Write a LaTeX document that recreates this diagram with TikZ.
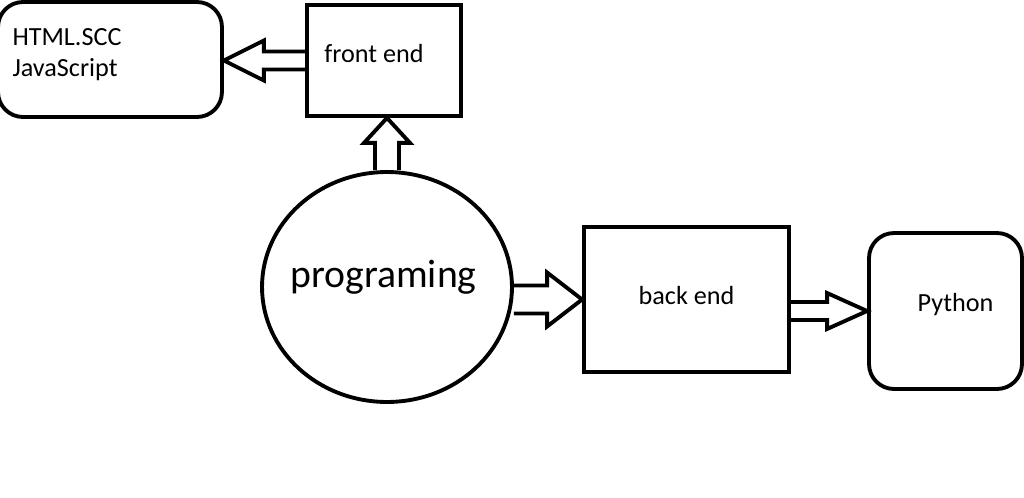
\documentclass[tikz,border=0pt]{standalone}
\usepackage{fontspec}
\setmainfont{Carlito}
\usetikzlibrary{calc,shapes.geometric}
\tikzset{
  box/.style={draw, line width=2.2pt, minimum width=#1},
  roundbox/.style={box=#1, rounded corners=0.5cm},
  fat/.style={draw, line width=2.2pt, line join=miter},
  txt/.style={font=\fontsize{14.9}{17.6}\selectfont}
}
\begin{document}
\begin{tikzpicture}[x=0.02cm, y=-0.02cm]
  \useasboundingbox (0,0) rectangle (1024,497);
  % 前端
  \node[box=3.08cm, minimum height=2.22cm, txt, text height=2.8pt, text depth=0pt] (fe) at (384,60.5) {front end\hspace*{11.4pt}};
  \node[roundbox=4.48cm, minimum height=2.3cm, txt, text width=3.9cm, align=left,
        text height=0pt, text depth=15.4pt] (html) at (110,59.5) {HTML.SCC\\JavaScript};
  % 编程
  \node[ellipse, draw, line width=2.2pt, minimum width=5cm, minimum height=4.6cm,
        text height=0pt, text depth=0pt, font=\fontsize{22.6}{26}\selectfont] (prog) at (387,287) {\makebox[0pt]{programing\hspace*{4pt}}};
  % 后端
  \node[box=4.1cm, minimum height=2.9cm, txt, text height=6.2pt, text depth=0pt] (be) at (686.5,299.5) {back end};
  \node[roundbox=3.06cm, minimum height=3.12cm, txt, text height=1.1pt, text depth=0pt] (py) at (945.5,311) {\hspace*{11.4pt}Python};
  % 箭头
  \coordinate (a1) at (html.east |- fe.west);
  \draw[fat] ($(fe.west)+(0,-9)$) -- ($(a1)+(40,-9)$) -- ($(a1)+(40,-20)$) -- (a1)
    -- ($(a1)+(40,20)$) -- ($(a1)+(40,9)$) -- ($(fe.west)+(0,9)$);
  \coordinate (a2) at (prog.north |- fe.south);
  \draw[fat] ($(prog.north)+(-12,0)$) -- ($(a2)+(-12,25)$) -- ($(a2)+(-23,25)$) -- (a2)
    -- ($(a2)+(23,25)$) -- ($(a2)+(12,25)$) -- ($(prog.north)+(12,0)$);
  \coordinate (a3) at (prog.east |- be.west);
  \draw[fat] ($(a3)+(0,-14)$) -- ($(be.west)+(-35,-14)$) -- ($(be.west)+(-35,-27)$) -- (be.west)
    -- ($(be.west)+(-35,27)$) -- ($(be.west)+(-35,14)$) -- ($(a3)+(0,14)$);
  \coordinate (a4) at (be.east |- py.west);
  \draw[fat] ($(a4)+(0,-9)$) -- ($(py.west)+(-40,-9)$) -- ($(py.west)+(-40,-18)$) -- (py.west)
    -- ($(py.west)+(-40,18)$) -- ($(py.west)+(-40,9)$) -- ($(a4)+(0,9)$);
\end{tikzpicture}
\end{document}
